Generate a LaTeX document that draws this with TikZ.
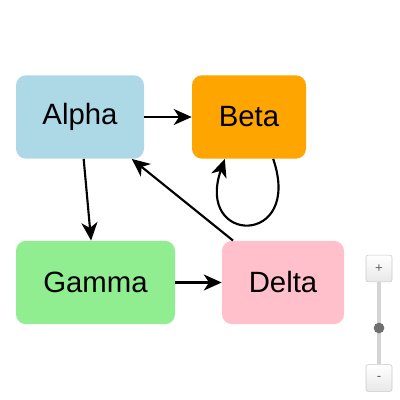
\documentclass[tikz,border=0pt]{standalone}
\usepackage{fontspec}
\setmainfont{Liberation Sans}
\usetikzlibrary{arrows.meta}

\begin{document}
\begin{tikzpicture}[x=0.75pt,y=0.75pt,yscale=-1,xscale=1,
  box/.style={rounded corners=7.5pt,inner sep=0pt,minimum height=62.5pt,font=\fontsize{22}{26}\selectfont},
  link/.style={line width=1.6pt,-{Stealth[length=13.5pt,width=12pt,inset=4pt]}},
  zoombtn/.style={draw={rgb,255:red,200;green,200;blue,200},rounded corners=1.5pt,top color=white,bottom color={rgb,255:red,232;green,232;blue,232},minimum width=19.5pt,minimum height=20pt,inner sep=0pt,text={rgb,255:red,100;green,100;blue,100},font=\fontsize{10}{11}\selectfont}]
\useasboundingbox (0,0) rectangle (400,400);

%Shape: Rectangle [Alpha]
\node [box,fill={rgb,255:red,173;green,216;blue,230},minimum width=96pt] (alpha) at (80,117) {Alpha};
%Shape: Rectangle [Beta]
\node [box,fill={rgb,255:red,255;green,165;blue,0},minimum width=85.5pt] (beta) at (249,117) {Beta};
%Shape: Rectangle [Gamma]
\node [box,fill={rgb,255:red,144;green,238;blue,144},minimum width=119.25pt] (gamma) at (95.5,282.5) {Gamma};
%Shape: Rectangle [Delta]
\node [box,fill={rgb,255:red,255;green,192;blue,203},minimum width=91.5pt] (delta) at (283,282.5) {Delta};

%Straight Lines
\draw [link] (alpha) -- (beta);
\draw [link] (alpha.-85) -- (gamma.96);
\draw [link] (gamma) -- (delta);
\draw [link] (delta.140) -- (alpha.-39);
%Curve Lines
\draw [link] (beta.-60) .. controls +(30,88) and +(-30,86) .. (beta.-120);

%Zoom control
\node [zoombtn] (zoomin) at (379,268.5) {+};
\node [zoombtn] (zoomout) at (379,378) {-};
\draw [line width=2.5pt,color={rgb,255:red,212;green,212;blue,212}] (zoomin.south) -- (zoomout.north);
\node [circle,fill={rgb,255:red,110;green,110;blue,110},minimum size=8pt,inner sep=0pt] (knob) at (379,328) {};

\end{tikzpicture}
\end{document}
